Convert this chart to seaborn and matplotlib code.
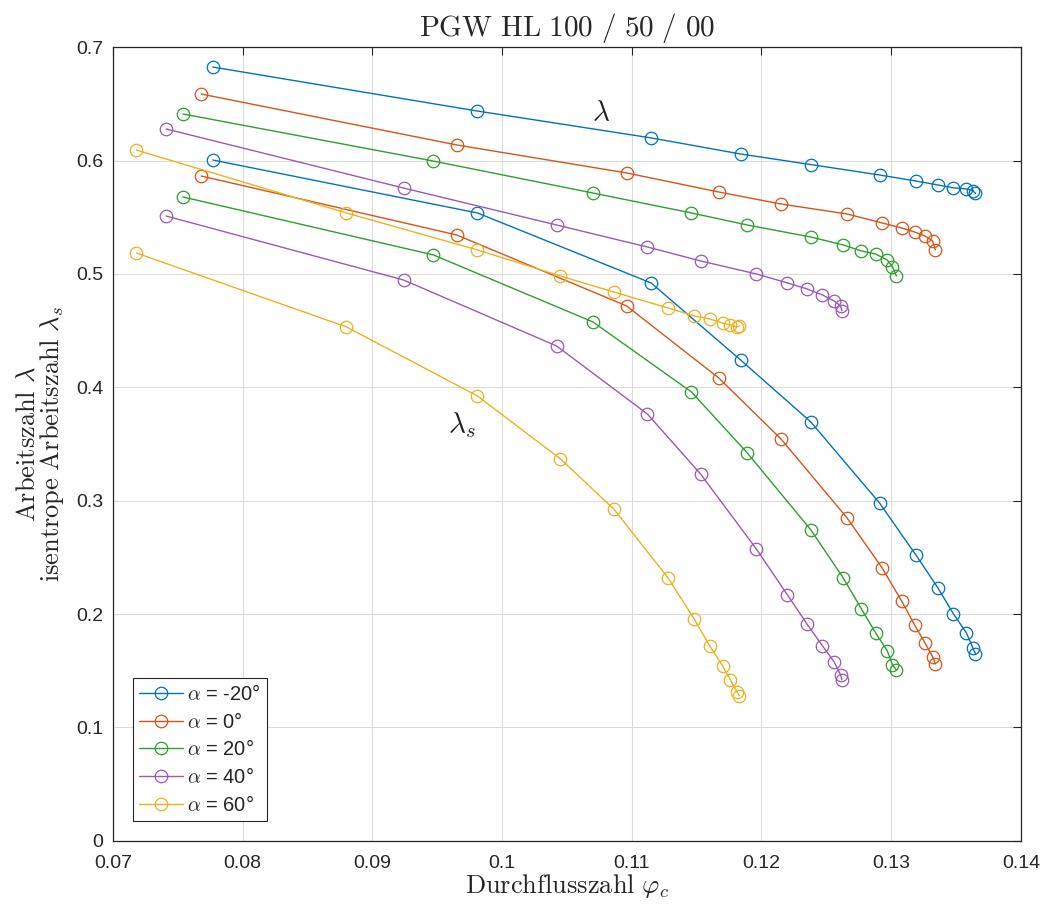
import seaborn as sns
import matplotlib.pyplot as plt
import pandas as pd

# operating points per inlet angle: flow coefficient, work coefficient, isentropic work coefficient
alphas = [-20, 0, 20, 40, 60]
colors = ['#0072BD', '#D95319', '#2CA02C', '#9B59B6', '#EDB120']

phi = {
    -20: [0.0777, 0.0981, 0.1115, 0.1184, 0.1238, 0.1291, 0.1319, 0.1336, 0.1348, 0.1358, 0.1363, 0.1365],
    0: [0.0768, 0.0965, 0.1096, 0.1167, 0.1215, 0.1266, 0.1293, 0.1308, 0.1318, 0.1326, 0.1332, 0.1334],
    20: [0.0754, 0.0947, 0.1070, 0.1146, 0.1189, 0.1238, 0.1263, 0.1277, 0.1288, 0.1297, 0.1301, 0.1304],
    40: [0.0741, 0.0924, 0.1042, 0.1112, 0.1153, 0.1196, 0.1220, 0.1235, 0.1247, 0.1256, 0.1261, 0.1262],
    60: [0.0718, 0.0880, 0.0981, 0.1045, 0.1086, 0.1128, 0.1148, 0.1160, 0.1170, 0.1176, 0.1181, 0.1183],
}
lam = {
    -20: [0.6825, 0.6437, 0.6200, 0.6058, 0.5965, 0.5873, 0.5820, 0.5785, 0.5760, 0.5750, 0.5735, 0.5710],
    0: [0.6587, 0.6138, 0.5891, 0.5723, 0.5617, 0.5529, 0.5450, 0.5406, 0.5370, 0.5335, 0.5291, 0.5212],
    20: [0.6411, 0.5996, 0.5714, 0.5538, 0.5432, 0.5326, 0.5256, 0.5203, 0.5176, 0.5123, 0.5062, 0.4982],
    40: [0.6279, 0.5758, 0.5432, 0.5238, 0.5115, 0.5000, 0.4921, 0.4868, 0.4815, 0.4762, 0.4718, 0.4674],
    60: [0.6093, 0.5538, 0.5212, 0.4982, 0.4841, 0.4700, 0.4630, 0.4603, 0.4568, 0.4550, 0.4533, 0.4541],
}
lam_s = {
    -20: [0.6005, 0.5538, 0.4920, 0.4240, 0.3695, 0.2980, 0.2522, 0.2231, 0.2002, 0.1834, 0.1700, 0.1650],
    0: [0.5864, 0.5344, 0.4718, 0.4083, 0.3545, 0.2848, 0.2407, 0.2116, 0.1905, 0.1746, 0.1623, 0.1561],
    20: [0.5679, 0.5168, 0.4577, 0.3959, 0.3422, 0.2743, 0.2319, 0.2046, 0.1834, 0.1675, 0.1552, 0.1508],
    40: [0.5511, 0.4947, 0.4365, 0.3765, 0.3236, 0.2575, 0.2169, 0.1914, 0.1720, 0.1578, 0.1464, 0.1420],
    60: [0.5185, 0.4533, 0.3924, 0.3369, 0.2928, 0.2319, 0.1958, 0.1720, 0.1543, 0.1420, 0.1314, 0.1279],
}

sns.set_style('white')
plt.rcParams['font.family'] = ['Liberation Sans', 'DejaVu Sans']
plt.rcParams['mathtext.fontset'] = 'cm'

fig, ax = plt.subplots(figsize=(10.46, 9.08), dpi=100)
fig.subplots_adjust(left=0.108, right=0.976, top=0.948, bottom=0.074)

for a, c in zip(alphas, colors):
    style = dict(color=c, marker='o', markersize=9.0, markerfacecolor='none',
                 markeredgecolor=c, markeredgewidth=0.9, linewidth=1.0, ax=ax)
    sns.lineplot(x=phi[a], y=lam[a], label=r'$\alpha$ = %d°' % a, **style)
    sns.lineplot(x=phi[a], y=lam_s[a], **style)

ax.set_xlim(0.07, 0.14)
ax.set_ylim(0, 0.7)
ax.set_xticks([0.07, 0.08, 0.09, 0.1, 0.11, 0.12, 0.13, 0.14])
ax.set_xticklabels(['0.07', '0.08', '0.09', '0.1', '0.11', '0.12', '0.13', '0.14'])
ax.set_yticks([0, 0.1, 0.2, 0.3, 0.4, 0.5, 0.6, 0.7])
ax.set_yticklabels(['0', '0.1', '0.2', '0.3', '0.4', '0.5', '0.6', '0.7'])
ax.tick_params(direction='in', length=6, width=0.8, top=True, right=True,
               labelsize=14, colors='#262626')
ax.tick_params(axis='x', pad=10)
ax.tick_params(axis='y', pad=7)
ax.grid(True, color='#dcdcdc', linewidth=0.8)
for s in ax.spines.values():
    s.set_color('#262626')
    s.set_linewidth(0.9)

ax.set_title(r'$\mathrm{PGW\ HL\ 100\ /\ 50\ /\ 00}$', fontsize=21, pad=8)
ax.set_xlabel(r'$\mathrm{Durchflusszahl}\ \varphi_c$', fontsize=19, labelpad=0)
ax.set_ylabel(r'$\mathrm{Arbeitszahl}\ \lambda$' + '\n' + r'$\mathrm{isentrope\ Arbeitszahl}\ \lambda_s$',
              fontsize=19, labelpad=7, linespacing=0.95)

ax.text(0.1076, 0.642, r'$\lambda$', fontsize=21, ha='center', va='center', color='#262626')
ax.text(0.0969, 0.367, r'$\lambda_s$', fontsize=21, ha='center', va='center', color='#262626')

leg = ax.legend(loc='lower left', fontsize=14.5, frameon=True, fancybox=False,
                framealpha=1, edgecolor='#262626', borderaxespad=1.0,
                handlelength=2.2, handletextpad=0.2, labelspacing=0.38, borderpad=0.3)
leg.get_frame().set_linewidth(0.8)

fig.savefig('out.png', dpi=100)
